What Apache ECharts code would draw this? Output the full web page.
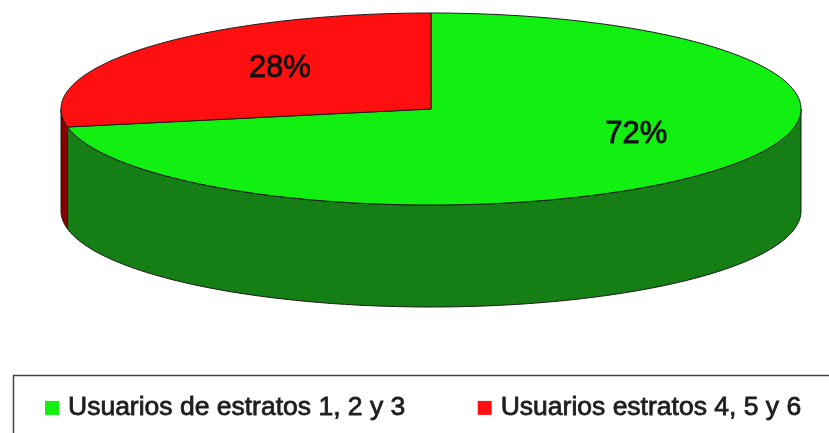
<!DOCTYPE html>
<html>
<head>
<meta charset="utf-8">
<script src="https://cdn.jsdelivr.net/npm/echarts@6/dist/echarts.min.js"></script>
<style>
  html, body { margin: 0; padding: 0; background: #fff; }
  #chart { width: 829px; height: 433px; }
</style>
</head>
<body>
<div id="chart"></div>
<script>
// data
const categories = ['Usuarios de estratos 1, 2 y 3', 'Usuarios estratos 4, 5 y 6']
const values = [72, 28]

// colours: top face / side wall
const topColors = ['#12f012', '#ff0f0f']
const sideColors = ['#157e15', '#880000']

// pie geometry (pixels)
const cx = 431
const cy = 109
const rx = 370
const ry = 96
const depth = 102
// label placement along the mid angle (x and y fractions of the radius)
const labelPlace = [[0.72, 0.41], [0.53, 0.67]]

const total = values.reduce((a, b) => a + b, 0)
const toRad = d => d * Math.PI / 180

// start at 12 o'clock and go clockwise
function sliceAngles(i) {
  let start = -90
  for (let k = 0; k < i; k++) start += values[k] / total * 360
  return [start, start + values[i] / total * 360]
}

function pt(deg, dy) {
  return [cx + rx * Math.cos(toRad(deg)), cy + ry * Math.sin(toRad(deg)) + (dy || 0)]
}

function arc(a, b, dy) {
  const pts = []
  const n = Math.max(2, Math.ceil(Math.abs(b - a)))
  for (let s = 0; s <= n; s++) pts.push(pt(a + (b - a) * s / n, dy))
  return pts
}

function makeRender(i) {
  return function(params, api) {
    const [a, b] = sliceAngles(i)
    const children = []
    // visible part of the wall: front half, 0..180 deg (shifted by 360 as needed)
    ;[0, 360, -360].forEach(off => {
      const s = Math.max(a, 0 + off)
      const e = Math.min(b, 180 + off)
      if (e > s) {
        const top = arc(s, e, 0)
        const bot = arc(e, s, depth)
        children.push({
          type: 'polygon',
          z2: 1,
          shape: { points: top.concat(bot) },
          style: { fill: sideColors[i], stroke: '#1b1b1b', lineWidth: 1 }
        })
      }
    })
    // top face
    children.push({
      type: 'polygon',
      z2: 2,
      shape: { points: [[cx, cy]].concat(arc(a, b, 0)) },
      style: { fill: topColors[i], stroke: '#1b1b1b', lineWidth: 1 }
    })
    // label
    const mid = (a + b) / 2
    const pct = Math.round(values[i] / total * 100) + '%'
    children.push({
      type: 'text',
      z2: 3,
      style: {
        text: pct,
        x: cx + rx * labelPlace[i][0] * Math.cos(toRad(mid)),
        y: cy + ry * labelPlace[i][1] * Math.sin(toRad(mid)),
        align: 'center',
        verticalAlign: 'middle',
        fontSize: 31,
        fontFamily: '"Liberation Sans", Arial, sans-serif',
        fill: '#111',
        stroke: '#111',
        lineWidth: 0.9
      }
    })
    return { type: 'group', children }
  }
}

const chart = echarts.init(document.getElementById('chart'))

chart.setOption({
  animation: false,
  legend: {
    data: categories,
    left: 45,
    top: 394,
    padding: 0,
    itemWidth: 14,
    itemHeight: 14,
    itemGap: 72,
    icon: 'rect',
    textStyle: {
      fontSize: 26.5,
      fontFamily: '"Liberation Sans", Arial, sans-serif',
      color: '#1e1e1e',
      textBorderColor: '#1e1e1e',
      textBorderWidth: 0.8,
      padding: [0, 0, 0, 4]
    }
  },
  graphic: [{
    type: 'rect',
    left: 11,
    top: 373,
    shape: { width: 840, height: 80 },
    style: { fill: 'none', stroke: '#444', lineWidth: 1.5 }
  }],
  series: categories.map((name, i) => ({
    type: 'custom',
    name,
    coordinateSystem: 'none',
    renderItem: makeRender(i),
    itemStyle: { color: topColors[i] },
    data: [values[i]]
  }))
})
</script>
</body>
</html>
